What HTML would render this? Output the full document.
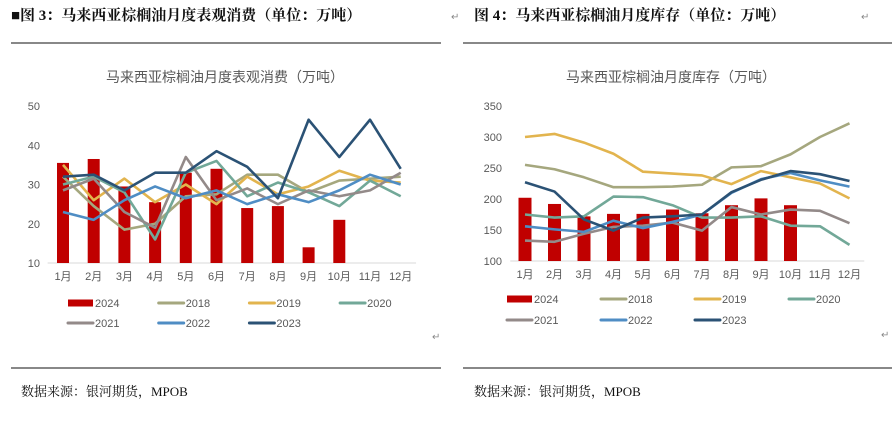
<!DOCTYPE html>
<html><head><meta charset="utf-8"><style>
html,body{margin:0;padding:0;background:#fff;width:892px;height:423px;overflow:hidden}
svg{display:block;font-family:"Liberation Sans","Noto Sans CJK SC",sans-serif}
.hd{font-family:"Liberation Serif","Noto Serif CJK SC",serif;font-weight:bold;font-size:15px;fill:#111}
.src{font-family:"Liberation Serif","Noto Serif CJK SC",serif;font-size:13px;fill:#111}
.rt{font-size:10px;fill:#888}
</style></head><body>
<svg id="root" width="892" height="423" viewBox="0 0 892 423">
<text class="hd" x="11" y="20">■图 3：马来西亚棕榈油月度表观消费（单位：万吨）</text>
<text class="hd" x="474" y="20">图 4：马来西亚棕榈油月度库存（单位：万吨）</text>
<text class="rt" x="451" y="20">↵</text>
<text class="rt" x="861" y="20">↵</text>
<text class="rt" x="432" y="340">↵</text>
<text class="rt" x="881" y="338">↵</text>
<line x1="11" y1="43" x2="441" y2="43" stroke="#111" stroke-width="1"/>
<line x1="463" y1="43" x2="892" y2="43" stroke="#111" stroke-width="1"/>
<line x1="11" y1="368" x2="441" y2="368" stroke="#111" stroke-width="1"/>
<line x1="463" y1="368" x2="892" y2="368" stroke="#111" stroke-width="1"/>
<text class="src" x="21" y="396">数据来源：银河期货，MPOB</text>
<text class="src" x="474" y="396">数据来源：银河期货，MPOB</text>
<g id="c1"></g>
<g id="c2"></g>
</svg>
<script>
const months = ["1月","2月","3月","4月","5月","6月","7月","8月","9月","10月","11月","12月"];
const seriesNames = ["2024","2018","2019","2020","2021","2022","2023"];
const seriesColors = ["#c00000","#a5a77e","#e2b44e","#72a898","#938a89","#4f8dc4","#2b5275"];
const consTicks = [10,20,30,40,50];
const cons2024 = [35.5,36.5,29.5,25.5,33,34,24,24.5,14,21];
const cons2018 = [32,24.5,18.5,20,27,27.5,32.5,32.5,28,31,31.5,32];
const cons2019 = [35,26,31.5,25.5,30,25,32,27.5,29.5,33.5,31,30.5];
const cons2020 = [30,32,28,16,33,36,27,30.5,28,24.5,31,27];
const cons2021 = [28.5,31.5,23,19,37,26,29,25,28.5,27,28.5,33];
const cons2022 = [23,21,26,29.5,26.5,28.5,25,27.5,25.5,28.5,32.5,30];
const cons2023 = [32,32.5,28.5,33,33,38.5,34.5,26.5,46.5,37,46.5,34];
const stockTicks = [100,150,200,250,300,350];
const stock2024 = [202,192,172,176,176,183,177,190,201,190];
const stock2018 = [255,248,235,219,219,220,223,251,253,272,300,322];
const stock2019 = [300,305,291,273,244,241,238,224,245,235,225,201];
const stock2020 = [175,170,172,204,203,190,170,170,172,157,156,126];
const stock2021 = [133,131,144,155,157,162,149,187,175,183,181,161];
const stock2022 = [156,151,147,165,153,163,175,210,232,242,230,220];
const stock2023 = [227,212,167,149,170,172,175,211,231,245,240,229];

const NS="http://www.w3.org/2000/svg";
function mk(parent,tag,attrs){const e=document.createElementNS(NS,tag);for(const k in attrs)e.setAttribute(k,attrs[k]);parent.appendChild(e);return e;}

function drawChart(g,cfg){
  const yS=v=>cfg.y0-(v-cfg.vmin)/(cfg.vmax-cfg.vmin)*(cfg.y0-cfg.y1);
  const xS=i=>cfg.x0+i*cfg.step;
  const t=mk(g,"text",{x:cfg.titleX,y:cfg.titleY,"text-anchor":"middle","font-size":"14","fill":"#595959"});
  t.textContent=cfg.title;
  
  
  cfg.ticks.forEach(v=>{
    const tx=mk(g,"text",{x:cfg.tickX,y:yS(v)+4,"text-anchor":"end","font-size":"11","fill":"#595959"});
    tx.textContent=v;
    
    
  });
  const ax=mk(g,"line",{x1:cfg.x0-cfg.step/2,x2:xS(11)+cfg.step/2,y1:cfg.y0,y2:cfg.y0,stroke:"#d9d9d9","stroke-width":"1"});
  
  
  months.forEach((m,i)=>{
    const tx=mk(g,"text",{x:xS(i),y:cfg.y0+17,"text-anchor":"middle","font-size":"11","fill":"#595959"});
    tx.textContent=m;
    
    
  });
  cfg.bars.forEach((v,i)=>{
    const r=mk(g,"rect",{x:xS(i)-cfg.bw/2,y:yS(v),width:cfg.bw,height:cfg.y0-yS(v),fill:seriesColors[0]});
    
    
  });
  cfg.lines.forEach((arr,k)=>{
    const p=mk(g,"polyline",{points:arr.map((v,i)=>xS(i)+","+yS(v)).join(" "),fill:"none",stroke:seriesColors[k+1],"stroke-width":"2.6","stroke-linejoin":"round"});
    
    
  });
  seriesNames.forEach((n,k)=>{
    const row=k<4?0:1, col=k<4?k:k-4;
    const lx=cfg.legX+col*cfg.legStep, ly=cfg.legY+row*cfg.legRow;
    const lg=mk(g,"g",{});
    
    
    if(k===0) mk(lg,"rect",{x:lx,y:ly-3.5,width:25,height:7,fill:seriesColors[0]});
    else mk(lg,"line",{x1:lx,x2:lx+25,y1:ly,y2:ly,stroke:seriesColors[k],"stroke-width":"3","stroke-linecap":"round"});
    const tx=mk(lg,"text",{x:lx+27,y:ly+4,"font-size":"11","fill":"#595959"});
    tx.textContent=n;
  });
}
drawChart(document.getElementById("c1"),{title:"马来西亚棕榈油月度表观消费（万吨）",titleX:225,titleY:82,
  vmin:10,vmax:50,y0:263,y1:106,x0:63,step:30.7,tickX:40,ticks:consTicks,bw:12,
  bars:cons2024,lines:[cons2018,cons2019,cons2020,cons2021,cons2022,cons2023],
  legX:68,legY:303,legStep:90.7,legRow:20});
drawChart(document.getElementById("c2"),{title:"马来西亚棕榈油月度库存（万吨）",titleX:671,titleY:82,
  vmin:100,vmax:350,y0:261,y1:106,x0:525,step:29.5,tickX:502,ticks:stockTicks,bw:13,
  bars:stock2024,lines:[stock2018,stock2019,stock2020,stock2021,stock2022,stock2023],
  legX:507,legY:299,legStep:94,legRow:21});
</script>
</body></html>
